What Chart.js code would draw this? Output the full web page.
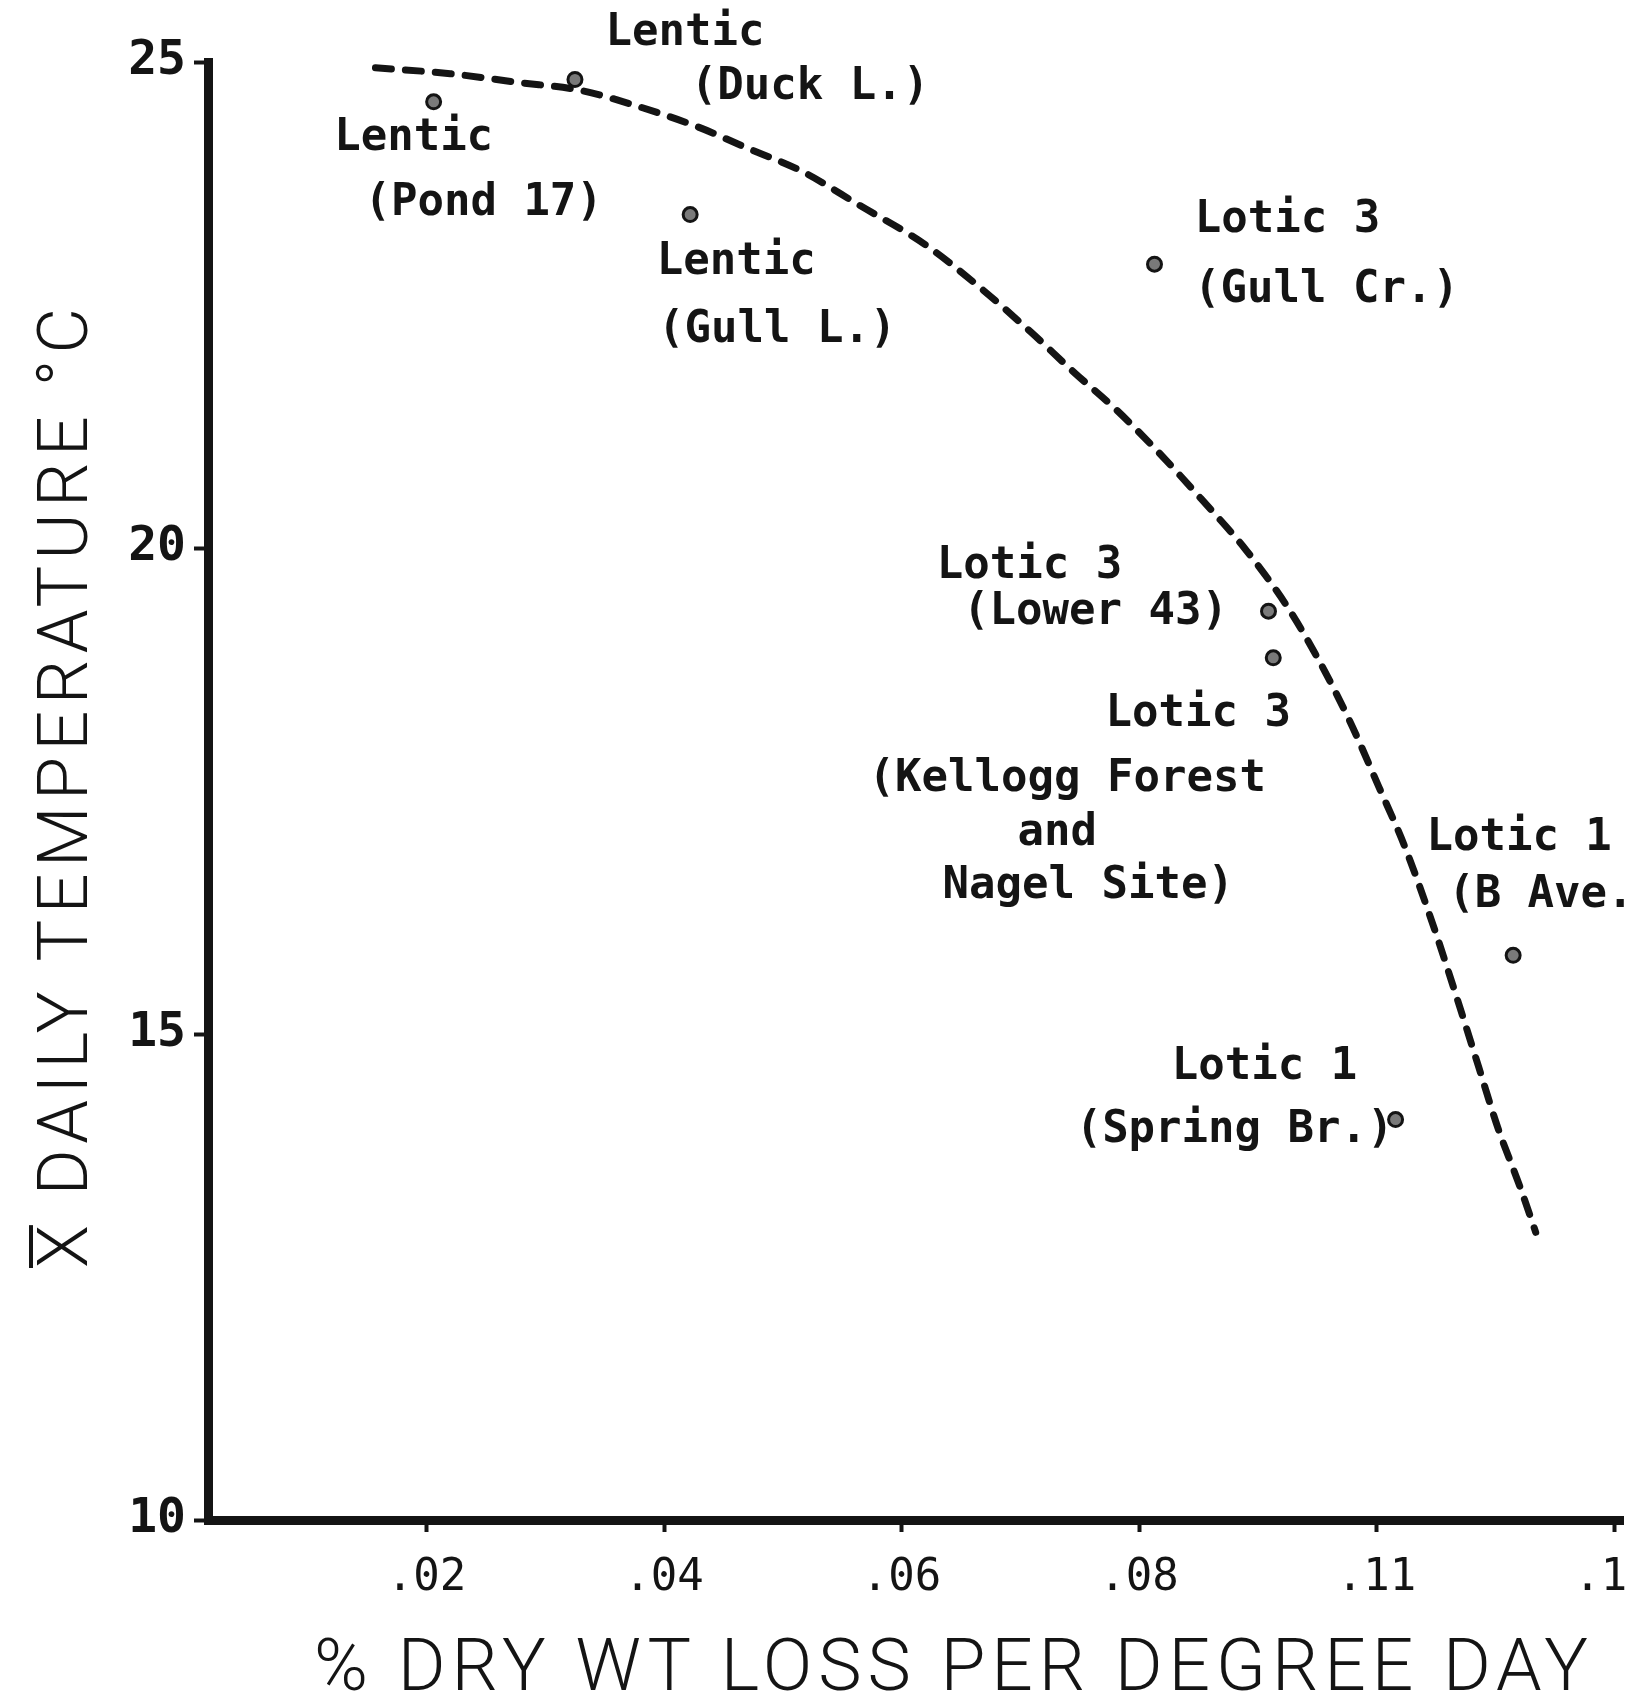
<!DOCTYPE html>
<html><head><meta charset="utf-8">
<script src="https://cdn.jsdelivr.net/npm/chart.js@4.4.1/dist/chart.umd.min.js"></script>
<style>html,body{margin:0;padding:0;background:#fff;overflow:hidden}canvas{display:block}</style>
</head><body>
<canvas id="c" width="1633" height="1699"></canvas>
<script>
// ---- data ----
const siteLabels = [
  ["Lentic", "(Pond 17)"],
  ["Lentic", "(Duck L.)"],
  ["Lentic", "(Gull L.)"],
  ["Lotic 3", "(Gull Cr.)"],
  ["Lotic 3", "(Lower 43)"],
  ["Lotic 3", "(Kellogg Forest", "and", "Nagel Site)"],
  ["Lotic 1", "(B Ave.)"],
  ["Lotic 1", "(Spring Br.)"]
];
const lossRate = [0.0206, 0.0325, 0.0422, 0.0813, 0.0909, 0.0913, 0.1115, 0.1016];
const meanTemp = [24.59, 24.82, 23.43, 22.92, 19.35, 18.87, 15.81, 14.12];

const curveLoss = [0.0157, 0.0220, 0.0277, 0.0329, 0.0379, 0.0429, 0.0469, 0.0517, 0.0564, 0.0620, 0.0667, 0.0709, 0.0745, 0.0781, 0.0816, 0.0852, 0.0890, 0.0923, 0.0948, 0.0977, 0.1002, 0.1024, 0.1049, 0.1070, 0.1086, 0.1102, 0.1121, 0.1134];
const curveTemp = [24.94, 24.88, 24.79, 24.71, 24.54, 24.33, 24.12, 23.87, 23.53, 23.12, 22.67, 22.22, 21.81, 21.42, 20.99, 20.51, 19.98, 19.43, 18.92, 18.23, 17.54, 16.92, 16.07, 15.28, 14.66, 14.04, 13.42, 12.96];

const xTickValues = [0.02, 0.04, 0.06, 0.08, 0.10, 0.12];
const xTickLabels = [".02", ".04", ".06", ".08", ".11", ".1 "];
const yTickValues = [10, 15, 20, 25];
const yTickLabels = ["10", "15", "20", "25"];
const xTitle = "% DRY WT LOSS PER DEGREE DAY";
const yTitle = "X DAILY TEMPERATURE \u00B0C";

// ---- layout of annotation text (pixel offsets from each point) ----
const labelLayout = [
  [[-20, 37], [50, 102]],
  [[110, -46], [235, 8]],
  [[46, 48], [87, 116]],
  [[133, -44], [172, 26]],
  [[-239, -45], [-173, 1]],
  [[-75, 57], [-206, 122], [-216, 176], [-185, 229]],
  [[6, -117], [-65, -60, 'left']],
  [[-131, -52], [-161, 11]]
];

const INK = '#141414';
const MONO = '"DejaVu Sans Mono", "Liberation Mono", monospace';

const annotations = {
  id: 'annotations',
  afterDatasetsDraw(chart) {
    const ctx = chart.ctx;
    const pts = chart.getDatasetMeta(0).data;
    ctx.save();
    ctx.fillStyle = INK;
    ctx.font = 'bold 44px ' + MONO;
    ctx.textBaseline = 'middle';
    siteLabels.forEach((lines, i) => {
      const p = pts[i];
      lines.forEach((t, j) => {
        const off = labelLayout[i][j];
        ctx.textAlign = off[2] || 'center';
        ctx.fillText(t, p.x + off[0], p.y + off[1]);
      });
    });
    ctx.restore();
  },
  afterDraw(chart) {
    const ctx = chart.ctx;
    ctx.save();
    ctx.fillStyle = INK;
    ctx.strokeStyle = INK;
    // x-axis title
    ctx.font = '300 73px Roboto, "DejaVu Sans", sans-serif';
    ctx.letterSpacing = '0px';
    let w = ctx.measureText(xTitle).width;
    let target = 1274;
    ctx.letterSpacing = ((target - w) / (xTitle.length - 1)) + 'px';
    ctx.textAlign = 'left';
    ctx.textBaseline = 'alphabetic';
    ctx.fillText(xTitle, 314, 1690);
    // y-axis title
    ctx.font = '300 70px Roboto, "DejaVu Sans", sans-serif';
    ctx.letterSpacing = '0px';
    w = ctx.measureText(yTitle).width;
    target = 960;
    const ls = (target - w) / (yTitle.length - 1);
    const wX = ctx.measureText('X').width;
    ctx.letterSpacing = ls + 'px';
    ctx.translate(62, 788);
    ctx.rotate(-Math.PI / 2);
    ctx.fillText(yTitle, -480, 25);
    // bar over the X
    ctx.lineWidth = 4;
    ctx.beginPath();
    ctx.moveTo(-480, -31);
    ctx.lineTo(-480 + wX, -31);
    ctx.stroke();
    ctx.restore();
  }
};

new Chart(document.getElementById('c'), {
  type: 'scatter',
  data: {
    datasets: [
      {
        label: 'sites',
        data: lossRate.map((x, i) => ({ x, y: meanTemp[i] })),
        pointRadius: 7,
        pointBackgroundColor: '#7a7a7a',
        pointBorderColor: INK,
        pointBorderWidth: 3,
        showLine: false,
        order: 0,
        clip: false
      },
      {
        label: 'curve',
        data: curveLoss.map((x, i) => ({ x, y: curveTemp[i] })),
        showLine: true,
        borderColor: INK,
        borderWidth: 7,
        borderDash: [16, 14],
        borderCapStyle: 'round',
        pointRadius: 0,
        cubicInterpolationMode: 'monotone',
        order: 1,
        clip: false
      }
    ]
  },
  options: {
    responsive: false,
    animation: false,
    events: [],
    layout: { padding: { top: 62, right: 0, left: 0, bottom: 0 } },
    plugins: { legend: { display: false }, tooltip: { enabled: false } },
    scales: {
      x: {
        type: 'linear',
        min: 0.0016,
        max: 0.12075,
        afterBuildTicks: s => { s.ticks = xTickValues.map(v => ({ value: v })); },
        afterFit: s => { s.height = 179; s.paddingLeft = 0; s.paddingRight = 0; },
        ticks: {
          callback: (v, i) => xTickLabels[i],
          font: { family: MONO, size: 44 },
          color: INK,
          padding: 20,
          maxRotation: 0,
          autoSkip: false
        },
        grid: { display: true, drawOnChartArea: false, drawTicks: true, tickLength: 12, tickWidth: 4, tickColor: INK },
        border: { display: true, width: 9, color: INK }
      },
      y: {
        type: 'linear',
        min: 10,
        max: 25,
        afterBuildTicks: s => { s.ticks = yTickValues.map(v => ({ value: v })); },
        afterFit: s => { s.width = 208; s.paddingTop = 0; s.paddingBottom = 0; },
        ticks: {
          callback: (v, i) => yTickLabels[i],
          font: { family: MONO, size: 48, weight: 'bold' },
          color: INK,
          padding: 8
        },
        grid: { display: true, drawOnChartArea: false, drawTicks: true, tickLength: 14, tickWidth: 4, tickColor: INK },
        border: { display: true, width: 9, color: INK }
      }
    }
  },
  plugins: [annotations]
});
</script>
</body></html>
